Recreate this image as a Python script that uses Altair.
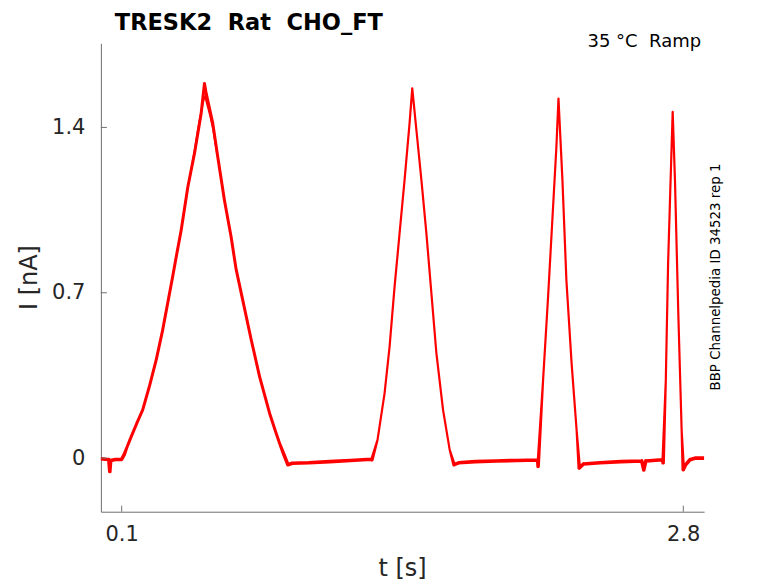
import altair as alt
import pandas as pd

# ---- data ----
t_vals = [0.0, 0.02, 0.038, 0.043, 0.047, 0.07, 0.1,
          0.112, 0.125, 0.14, 0.153, 0.175, 0.201, 0.233, 0.266, 0.297, 0.321, 0.345, 0.366, 0.386, 0.418, 0.45, 0.482, 0.498,
          0.505, 0.538, 0.562, 0.594, 0.626, 0.65, 0.682, 0.723, 0.763, 0.811, 0.837, 0.859, 0.88, 0.899,
          0.92, 1.0, 1.1, 1.2, 1.3,
          1.303, 1.33, 1.364, 1.388, 1.412, 1.436, 1.46, 1.484, 1.497,
          1.517, 1.541, 1.565, 1.589, 1.613, 1.645, 1.677, 1.698,
          1.72, 1.8, 1.9, 2.0, 2.1,
          2.102, 2.126, 2.15, 2.174, 2.19, 2.2,
          2.219, 2.238, 2.263, 2.287, 2.3,
          2.32, 2.4, 2.5, 2.6, 2.61, 2.62, 2.7,
          2.703, 2.716, 2.727, 2.739, 2.749,
          2.76, 2.776, 2.792, 2.8,
          2.81, 2.832, 2.86, 2.9]
i_vals = [-0.003, -0.005, -0.006, -0.057, -0.01, -0.006, -0.005,
          0.015, 0.045, 0.078, 0.106, 0.152, 0.204, 0.303, 0.416, 0.542, 0.655, 0.768, 0.87, 0.965, 1.148, 1.29, 1.459, 1.586,
          1.55, 1.417, 1.275, 1.092, 0.937, 0.80, 0.669, 0.5, 0.345, 0.19, 0.12, 0.063, 0.015, -0.028,
          -0.022, -0.02, -0.015, -0.01, -0.005,
          -0.007, 0.077, 0.275, 0.472, 0.726, 0.951, 1.177, 1.417, 1.565,
          1.388, 1.177, 0.951, 0.698, 0.444, 0.204, 0.035, -0.028,
          -0.02, -0.015, -0.012, -0.01, -0.008,
          -0.035, 0.331, 0.683, 1.064, 1.318, 1.522,
          1.177, 0.754, 0.402, 0.12, -0.042,
          -0.025, -0.02, -0.015, -0.012, -0.05, -0.012, -0.007,
          -0.02, 0.331, 0.825, 1.177, 1.466,
          1.177, 0.613, 0.12, -0.049,
          -0.03, -0.007, 0.0, 0.0]

# second, overlapping trace at the top of the first ramp
t_rep2 = [0.43, 0.45, 0.47, 0.49, 0.5, 0.51, 0.525, 0.54, 0.56]
i_rep2 = [1.2, 1.3, 1.41, 1.5, 1.535, 1.5, 1.45, 1.39, 1.28]

y_ticks = [0, 0.7, 1.4]
x_ticks = [0.1, 2.8]

NB = "\u00a0"
title_text = "TRESK2" + NB * 2 + "Rat" + NB * 2 + "CHO_FT"
cond_text = "35" + NB + "°C" + NB * 2 + "Ramp"
side_text = "BBP Channelpedia ID 34523 rep 1"
x_title = "t [s]"
y_title = "I [nA]"

W, H = 604, 469
FONT = "DejaVu Sans"
AX = "#6e6e6e"
LBL = "#262626"

xs = alt.Scale(domain=[0, 2.9], nice=False, zero=False)
ys = alt.Scale(domain=[-0.227, 1.756], nice=False, zero=False)

df = pd.DataFrame({"t": t_vals, "I": i_vals, "o": list(range(len(t_vals)))})
df2 = pd.DataFrame({"t": t_rep2, "I": i_rep2, "o": list(range(len(t_rep2)))})

x_axis = alt.Axis(values=x_ticks, format="~g", title=None, grid=False, ticks=False,
                  domainColor=AX, labelFontSize=21, labelColor=LBL, labelFont=FONT,
                  labelPadding=12, labelFlush=False)
y_axis = alt.Axis(values=y_ticks, format="~g", title=None, grid=False, ticks=False,
                  domainColor=AX, labelFontSize=21, labelColor=LBL, labelFont=FONT,
                  labelPadding=16)

trace = alt.Chart(df).transform_calculate(
    w="datum.I < 0.03 ? 3.6 : (datum.t < 0.95 ? 3.0 : 2.2)"
).mark_trail(color="#ff0000", clip=True).encode(
    x=alt.X("t:Q", scale=xs, axis=x_axis),
    y=alt.Y("I:Q", scale=ys, axis=y_axis),
    order="o:Q",
    size=alt.Size("w:Q", scale=None, legend=None),
)

trace2 = alt.Chart(df2).mark_line(color="#ff0000", strokeWidth=1.8, clip=True).encode(
    x=alt.X("t:Q", scale=xs),
    y=alt.Y("I:Q", scale=ys),
    order="o:Q",
)

ytick_rules = alt.Chart(pd.DataFrame({"v": y_ticks})).mark_rule(color=AX, strokeWidth=1).encode(
    y=alt.Y("v:Q", scale=ys),
    x=alt.value(0), x2=alt.value(6),
)
xtick_rules = alt.Chart(pd.DataFrame({"v": x_ticks})).mark_rule(color=AX, strokeWidth=1).encode(
    x=alt.X("v:Q", scale=xs),
    y=alt.value(H), y2=alt.value(H - 6),
)

title = alt.Chart(pd.DataFrame({"s": [title_text]})).mark_text(
    font=FONT, fontSize=22.5, fontWeight="bold", color="#000000",
    align="left", baseline="alphabetic"
).encode(text="s:N", x=alt.value(14), y=alt.value(-13.5))

cond = alt.Chart(pd.DataFrame({"s": [cond_text]})).mark_text(
    font=FONT, fontSize=18, color="#000000", align="right", baseline="alphabetic"
).encode(text="s:N", x=alt.value(601), y=alt.value(4))

side = alt.Chart(pd.DataFrame({"s": [side_text]})).mark_text(
    font=FONT, fontSize=13.4, color="#000000", align="center", baseline="middle", angle=270
).encode(text="s:N", x=alt.value(616), y=alt.value(234))

xt = alt.Chart(pd.DataFrame({"s": [x_title]})).mark_text(
    font=FONT, fontSize=24, color=LBL, align="center", baseline="alphabetic"
).encode(text="s:N", x=alt.value(302), y=alt.value(533))

yt = alt.Chart(pd.DataFrame({"s": [y_title]})).mark_text(
    font=FONT, fontSize=24, color=LBL, align="center", baseline="alphabetic", angle=270
).encode(text="s:N", x=alt.value(-64), y=alt.value(234.5))

chart = alt.layer(trace, trace2, ytick_rules, xtick_rules, title, cond, side, xt, yt).properties(
    width=W, height=H,
    autosize=alt.AutoSizeParams(type="none"),
    padding={"left": 93, "top": 35, "right": 66, "bottom": 70},
).configure_view(stroke=None).resolve_scale(x="shared", y="shared")

chart.save("out.html", embed_options={"renderer": "svg", "actions": False})
